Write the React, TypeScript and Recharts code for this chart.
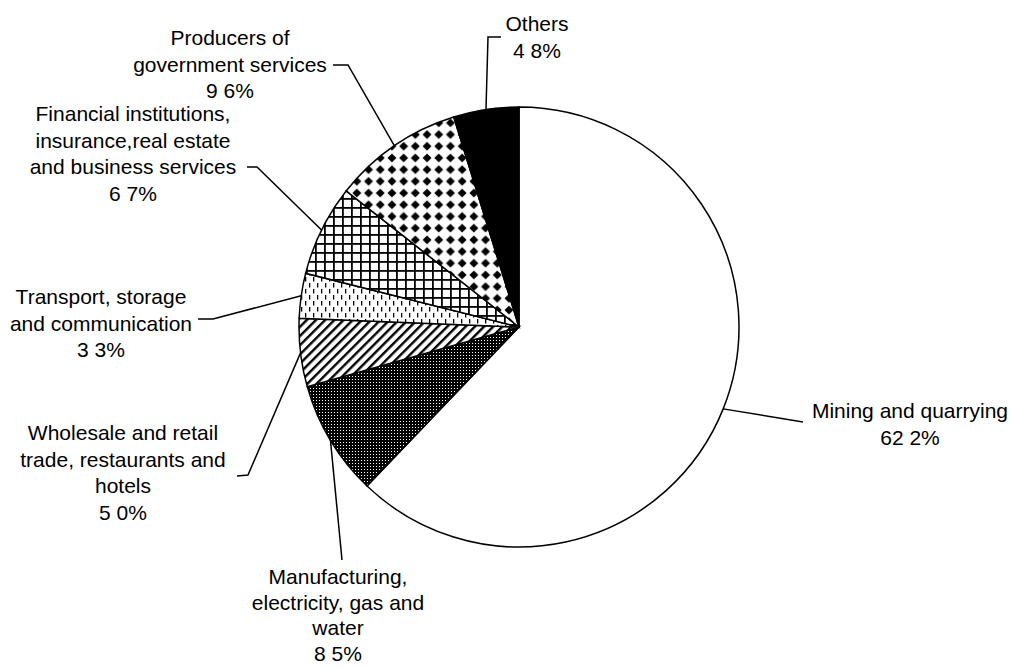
import React from 'react';
import { PieChart, Pie, Cell } from 'recharts';

// shares of GDP by sector, clockwise from 12 o'clock
const categories = [
  'Mining and quarrying',
  'Manufacturing, electricity, gas and water',
  'Wholesale and retail trade, restaurants and hotels',
  'Transport, storage and communication',
  'Financial institutions, insurance,real estate and business services',
  'Producers of government services',
  'Others',
];
const shares = [62.2, 8.5, 5.0, 3.3, 6.7, 9.6, 4.8];
const labelLines = [
  ['Mining and quarrying'],
  ['Manufacturing,', 'electricity, gas and', 'water'],
  ['Wholesale and retail', 'trade, restaurants and', 'hotels'],
  ['Transport, storage', 'and communication'],
  ['Financial institutions,', 'insurance,real estate', 'and business services'],
  ['Producers of', 'government services'],
  ['Others'],
];

const fills = [
  '#ffffff',
  'url(#pManuf)',
  'url(#pDiag)',
  'url(#pDash)',
  'url(#pGrid)',
  'url(#pDiamond)',
  '#000000',
];

// where each label block sits and how its leader line bends
const labelLayout = [
  { x: 910, y: 418, lh: 26.5, bends: [[803, 422]] },
  { x: 338, y: 584, lh: 25.5, bends: [[342, 560]] },
  { x: 123, y: 440, lh: 26.5, bends: [[248, 475], [237, 476]] },
  { x: 101, y: 304, lh: 26.5, bends: [[213, 319], [198, 319]] },
  { x: 133, y: 121, lh: 26.5, bends: [[257, 167], [247, 167]] },
  { x: 230, y: 45, lh: 26.5, bends: [[348, 65], [333, 65]] },
  { x: 537, y: 31, lh: 26.5, bends: [[488, 37], [501, 37]] },
];

const chartData = categories.map((name, i) => ({ name, value: shares[i] }));

const RAD = Math.PI / 180;

const fmt = (v: number) => v.toFixed(1).replace('.', ' ') + '%';

const renderLabel = (props: any) => {
  const { cx, cy, midAngle, outerRadius, index, value } = props;
  const lay = labelLayout[index];
  const sx = cx + outerRadius * Math.cos(-midAngle * RAD);
  const sy = cy + outerRadius * Math.sin(-midAngle * RAD);
  const pts = [[sx, sy], ...lay.bends].map(p => p.join(',')).join(' ');
  const lines = [...labelLines[index], fmt(value)];
  return (
    <g key={'lbl' + index}>
      <polyline points={pts} fill="none" stroke="#000" strokeWidth={1.5} />
      {lines.map((t, j) => (
        <text
          key={j}
          x={lay.x}
          y={lay.y + j * lay.lh}
          textAnchor="middle"
          fill="#000"
          fontSize={21}
          fontFamily="'Liberation Sans', Arial, sans-serif"
        >
          {t}
        </text>
      ))}
    </g>
  );
};

const Patterns = () => (
  <svg width={0} height={0} style={{ position: 'absolute' }}>
    <defs>
      <pattern id="pManuf" width={3} height={3} patternUnits="userSpaceOnUse">
        <rect width={3} height={3} fill="#000" />
        <rect x={1} y={1} width={1} height={1} fill="#fff" />
      </pattern>
      <pattern id="pDiag" width={6.5} height={6.5} patternUnits="userSpaceOnUse" patternTransform="rotate(45)">
        <rect width={6.5} height={6.5} fill="#fff" />
        <rect x={0} y={0} width={2.4} height={6.5} fill="#000" />
      </pattern>
      <pattern id="pDash" width={8} height={12} patternUnits="userSpaceOnUse">
        <rect width={8} height={12} fill="#fff" />
        <rect x={1} y={1} width={1.3} height={4.5} fill="#000" />
        <rect x={5} y={7} width={1.3} height={4.5} fill="#000" />
      </pattern>
      <pattern id="pGrid" width={9} height={9} patternUnits="userSpaceOnUse">
        <rect width={9} height={9} fill="#fff" />
        <rect x={0} y={0} width={9} height={1.8} fill="#000" />
        <rect x={0} y={0} width={1.8} height={9} fill="#000" />
      </pattern>
      <pattern id="pDiamond" width={11.7} height={11.7} patternUnits="userSpaceOnUse">
        <rect width={11.7} height={11.7} fill="#fff" />
        <polygon points="5.85,1.4 10.3,5.85 5.85,10.3 1.4,5.85" fill="#000" />
      </pattern>
    </defs>
  </svg>
);

export default function App() {
  return (
    <div style={{ position: 'absolute', left: 0, top: 0, width: 1014, height: 668, background: '#fff' }}>
      <Patterns />
      <PieChart width={1014} height={668} margin={{ top: 0, right: 0, bottom: 0, left: 0 }}>
        <Pie
          data={chartData}
          dataKey="value"
          nameKey="name"
          cx={519}
          cy={327}
          outerRadius={220}
          startAngle={90}
          endAngle={-270}
          stroke="#000"
          strokeWidth={1.5}
          label={renderLabel}
          labelLine={false}
          isAnimationActive={false}
        >
          {chartData.map((d, i) => (
            <Cell key={d.name} fill={fills[i]} />
          ))}
        </Pie>
      </PieChart>
    </div>
  );
}
